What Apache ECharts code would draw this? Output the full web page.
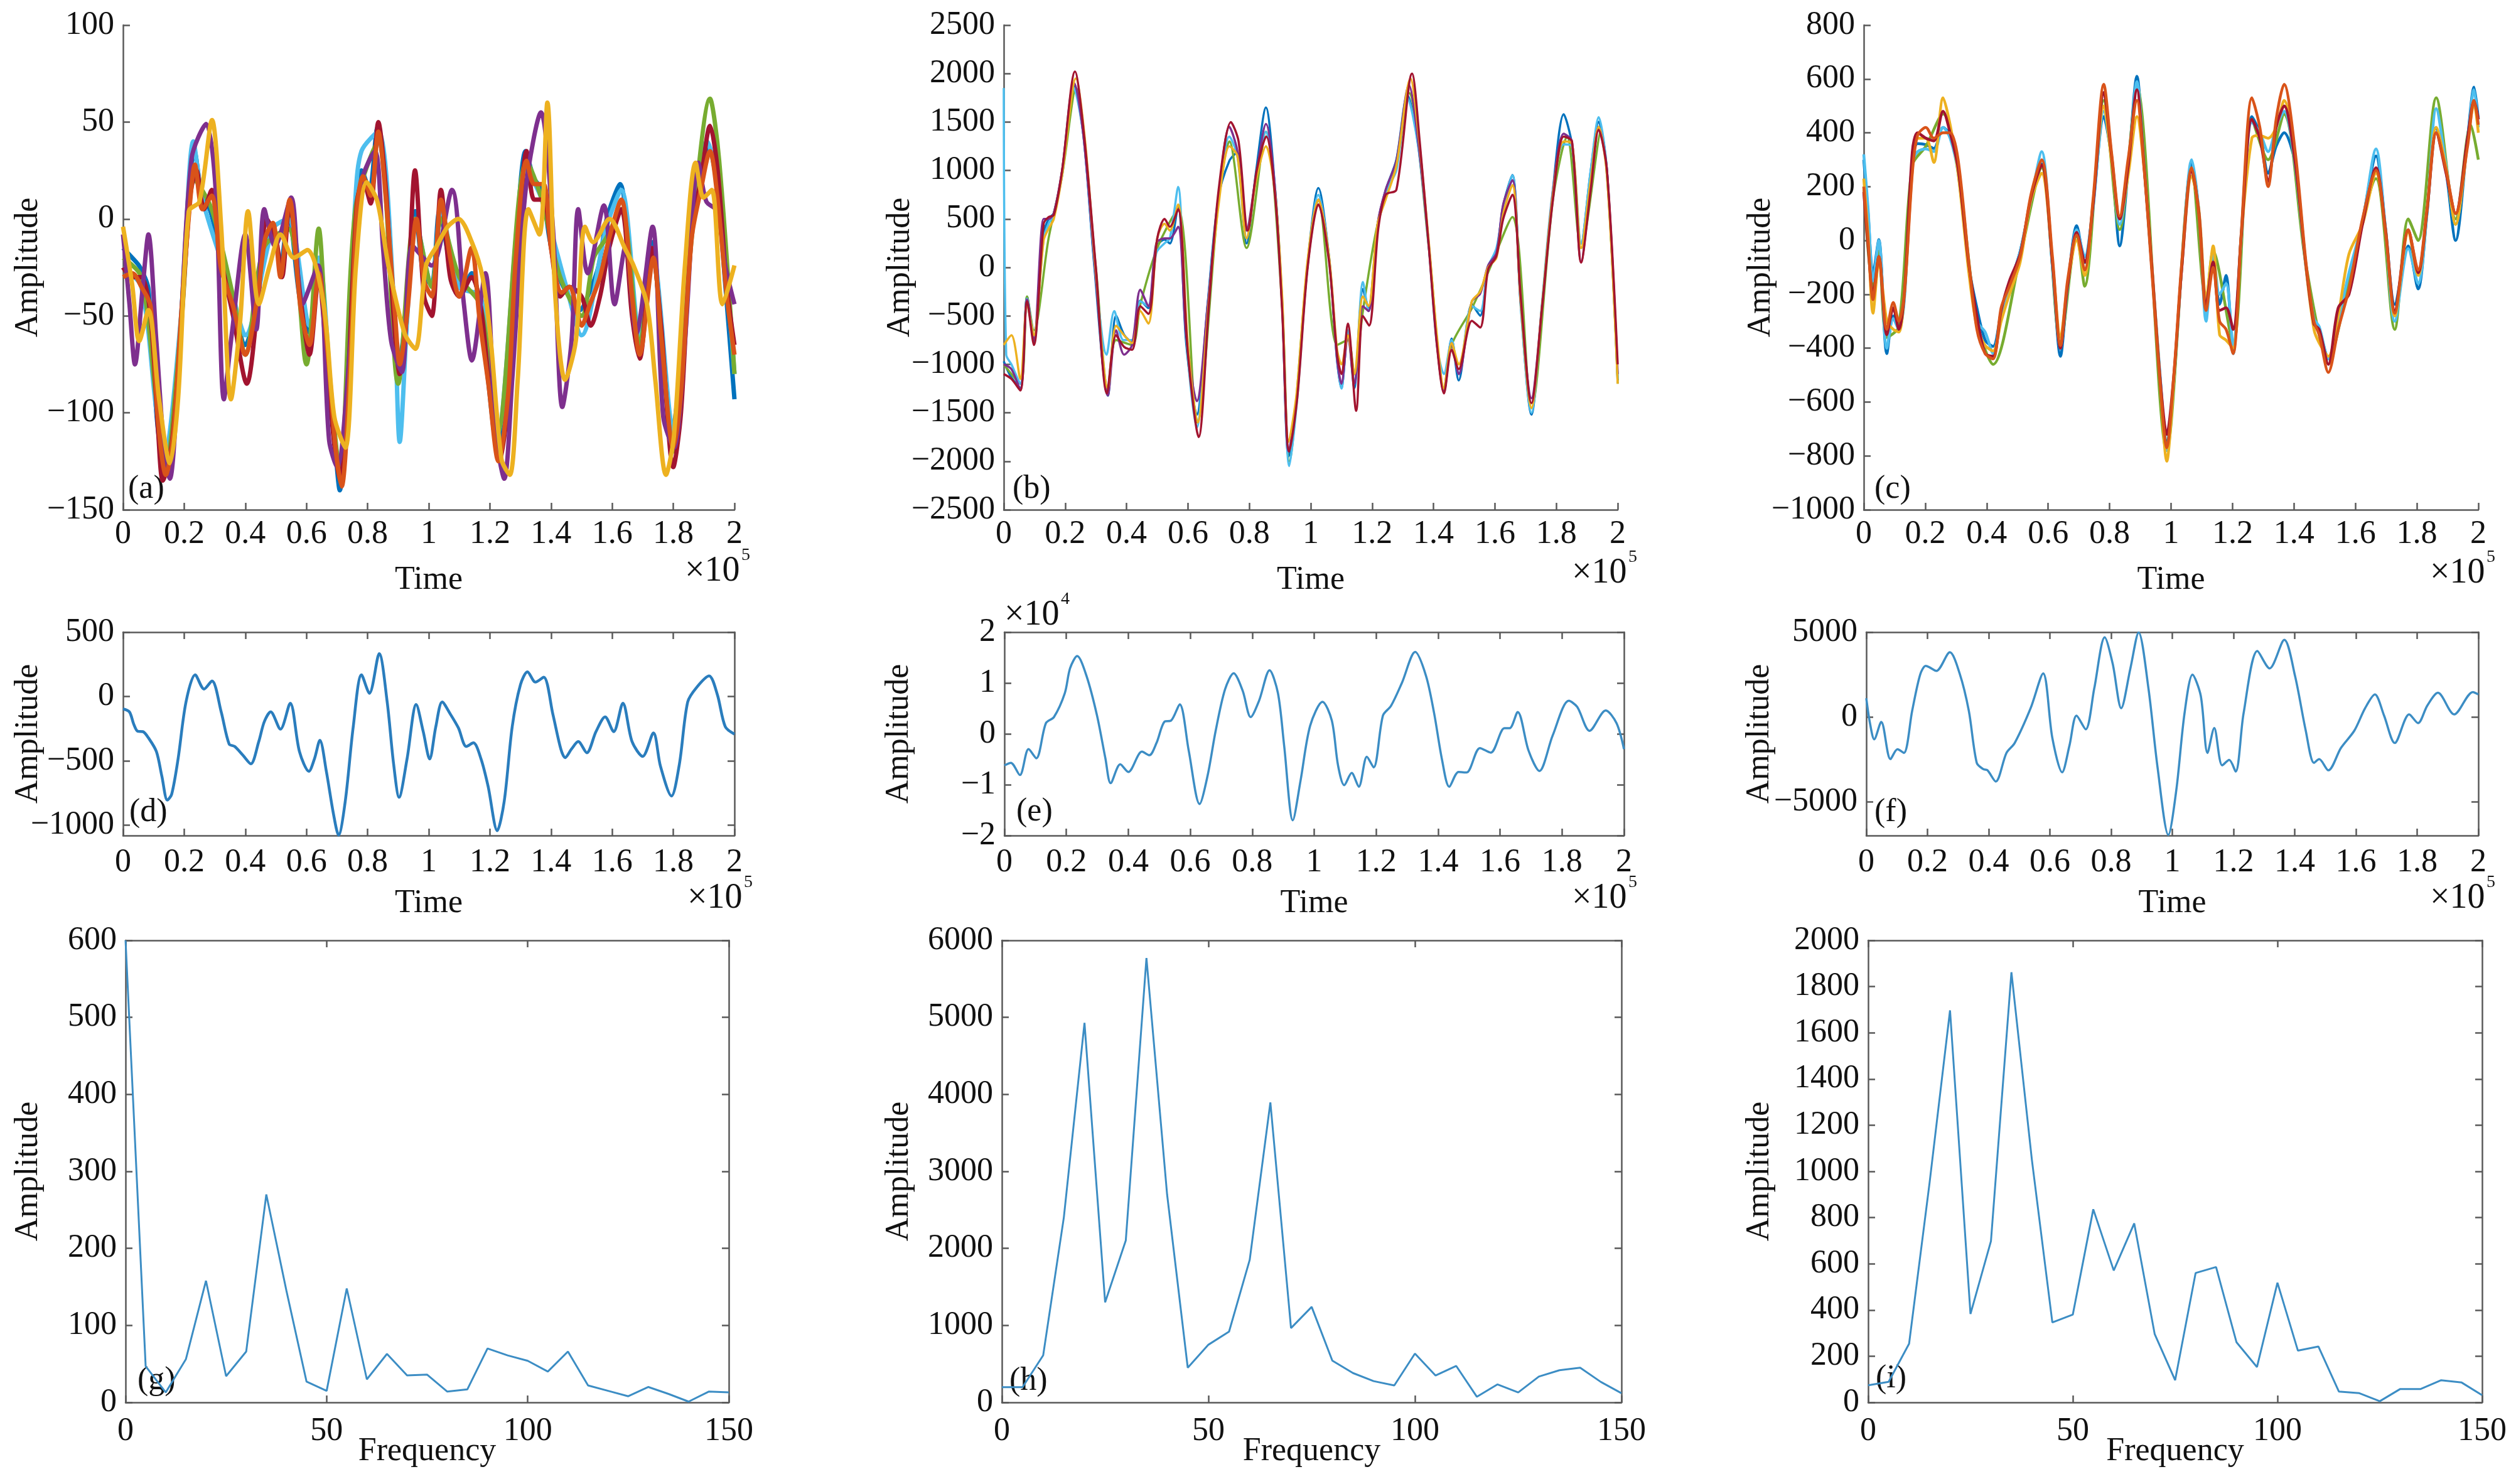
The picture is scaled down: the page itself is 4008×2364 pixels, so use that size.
<!DOCTYPE html>
<html>
<head>
<meta charset="utf-8">
<script src="https://cdn.jsdelivr.net/npm/echarts@6/dist/echarts.min.js"></script>
<style>
  html, body { margin: 0; background: #fff; }
  #chart { width: 4008px; height: 2364px; }
</style>
</head>
<body>
<div id="chart"></div>
<script>
// time is in units of 1e5 (axis shows x10^5), panel (e) amplitude in units of 1e4
const aBlue = [[0,-15],[0.03,-20],[0.056,-25],[0.083,-36],[0.11,-102],[0.136,-128],[0.159,-112],[0.189,-53],[0.215,15],[0.233,35],[0.259,11],[0.286,4],[0.321,-20],[0.356,-40],[0.4,-65],[0.436,-44],[0.462,-14],[0.489,-4],[0.515,-24],[0.541,4],[0.577,-40],[0.612,-59],[0.638,-24],[0.665,-63],[0.691,-112],[0.709,-140],[0.735,-83],[0.762,11],[0.78,25],[0.806,15],[0.832,47],[0.859,15],[0.885,-44],[0.903,-73],[0.929,-44],[0.956,4],[0.982,-28],[1.009,-34],[1.035,4],[1.071,-24],[1.106,-36],[1.141,-28],[1.168,-47],[1.194,-83],[1.224,-116],[1.256,-93],[1.282,-24],[1.317,35],[1.344,21],[1.37,15],[1.397,-12],[1.432,-32],[1.459,-40],[1.494,-47],[1.52,-40],[1.556,-24],[1.582,0],[1.626,18],[1.661,-36],[1.688,-63],[1.732,-12],[1.758,-53],[1.794,-112],[1.82,-83],[1.855,-4],[1.891,19],[1.917,37],[1.944,15],[1.97,-34],[2,-93]];
const aOrange = [[0,-30],[0.03,-28],[0.06,-35],[0.09,-45],[0.115,-105],[0.14,-132],[0.165,-110],[0.19,-50],[0.22,10],[0.235,28],[0.26,5],[0.29,12],[0.32,-25],[0.36,-45],[0.4,-70],[0.44,-40],[0.465,-10],[0.49,-2],[0.515,-30],[0.545,10],[0.58,-45],[0.61,-65],[0.64,-28],[0.67,-70],[0.695,-118],[0.715,-138],[0.74,-85],[0.765,5],[0.785,22],[0.81,12],[0.835,45],[0.86,10],[0.89,-50],[0.905,-75],[0.93,-48],[0.96,0],[0.985,-32],[1.01,-40],[1.04,10],[1.07,-20],[1.1,-40],[1.14,-15],[1.165,-50],[1.195,-85],[1.228,-125],[1.26,-90],[1.285,-20],[1.32,30],[1.345,18],[1.375,18],[1.4,-15],[1.435,-38],[1.46,-35],[1.5,-55],[1.525,-45],[1.56,-30],[1.59,-10],[1.63,10],[1.665,-40],[1.69,-70],[1.735,-20],[1.76,-60],[1.8,-118],[1.825,-90],[1.86,-10],[1.89,15],[1.92,35],[1.945,10],[1.975,-40],[2,-70]];
const aRed = [[0,-25],[0.03,-30],[0.06,-30],[0.09,-50],[0.115,-110],[0.13,-135],[0.16,-115],[0.19,-55],[0.22,12],[0.24,25],[0.265,5],[0.29,15],[0.32,-20],[0.36,-50],[0.405,-85],[0.44,-45],[0.47,0],[0.5,-10],[0.52,-30],[0.545,8],[0.58,-40],[0.61,-70],[0.64,-30],[0.665,-70],[0.69,-115],[0.71,-135],[0.735,-85],[0.765,8],[0.785,20],[0.81,8],[0.835,50],[0.86,15],[0.885,-50],[0.905,-80],[0.93,-45],[0.955,25],[0.985,-40],[1.01,-50],[1.04,15],[1.07,-30],[1.1,-40],[1.14,-30],[1.17,-45],[1.2,-90],[1.23,-125],[1.26,-95],[1.29,-25],[1.32,35],[1.345,10],[1.375,10],[1.4,-15],[1.43,-40],[1.46,-35],[1.5,-40],[1.53,-55],[1.56,-40],[1.59,-15],[1.63,5],[1.665,-50],[1.69,-72],[1.73,-15],[1.76,-55],[1.8,-128],[1.825,-100],[1.86,-5],[1.89,20],[1.92,48],[1.945,25],[1.975,-35],[2,-65]];
const aGreen = [[0,-20],[0.06,-30],[0.11,-95],[0.14,-125],[0.19,-55],[0.235,20],[0.29,5],[0.36,-40],[0.4,-70],[0.46,-15],[0.54,-5],[0.6,-75],[0.64,-5],[0.665,-60],[0.71,-130],[0.76,5],[0.835,40],[0.9,-85],[0.955,0],[1.01,-35],[1.04,0],[1.1,-30],[1.17,-45],[1.225,-110],[1.32,30],[1.37,10],[1.43,-30],[1.5,-50],[1.54,-20],[1.58,-10],[1.63,5],[1.69,-65],[1.73,-20],[1.8,-120],[1.86,-10],[1.92,62],[1.95,30],[2,-80]];
const aCyan = [[0,-25],[0.06,-35],[0.11,-100],[0.135,-120],[0.19,-50],[0.23,40],[0.26,10],[0.36,-40],[0.4,-60],[0.49,-5],[0.54,0],[0.61,-55],[0.64,-20],[0.69,-110],[0.71,-130],[0.76,10],[0.78,35],[0.835,45],[0.885,-40],[0.905,-115],[0.93,-50],[0.955,0],[1.01,-35],[1.04,5],[1.1,-35],[1.17,-40],[1.225,-110],[1.32,25],[1.37,10],[1.45,-35],[1.5,-60],[1.58,-5],[1.63,15],[1.69,-60],[1.73,-15],[1.8,-110],[1.86,0],[1.91,40],[1.95,10],[2,-80]];
const aPurple = [[0,-8],[0.021,-44],[0.039,-75],[0.065,-34],[0.083,-8],[0.109,-63],[0.136,-122],[0.153,-134],[0.18,-83],[0.224,31],[0.272,49],[0.303,15],[0.33,-93],[0.356,-59],[0.4,-8],[0.436,-57],[0.462,5],[0.497,-14],[0.55,11],[0.586,-44],[0.638,-24],[0.674,-114],[0.7,-128],[0.744,-63],[0.78,19],[0.824,35],[0.85,-14],[0.877,-63],[0.912,-79],[0.947,-14],[1.009,-24],[1.076,15],[1.115,-44],[1.141,-73],[1.185,-28],[1.22,-112],[1.247,-134],[1.273,-83],[1.317,15],[1.367,55],[1.406,-4],[1.437,-97],[1.467,-63],[1.489,5],[1.52,-28],[1.573,7],[1.608,-44],[1.644,-14],[1.679,-59],[1.732,-4],[1.767,-102],[1.802,-118],[1.838,-63],[1.882,29],[1.908,9],[1.944,4],[1.97,-24],[2,-44]];
const aYellow = [[0,-4],[0.03,-34],[0.053,-63],[0.083,-47],[0.118,-93],[0.153,-126],[0.18,-93],[0.215,4],[0.25,9],[0.291,51],[0.321,-4],[0.353,-93],[0.383,-53],[0.409,4],[0.444,-44],[0.48,-24],[0.515,-8],[0.559,-20],[0.603,-16],[0.656,-44],[0.691,-102],[0.727,-118],[0.762,-24],[0.797,19],[0.832,9],[0.868,-24],[0.921,-59],[0.956,-67],[0.991,-24],[1.026,-14],[1.062,-4],[1.097,0],[1.141,-12],[1.176,-30],[1.203,-63],[1.238,-124],[1.265,-132],[1.291,-83],[1.326,5],[1.362,-8],[1.388,60],[1.414,-40],[1.446,-83],[1.481,-63],[1.511,-4],[1.538,-12],[1.591,0],[1.644,-16],[1.67,-24],[1.714,-44],[1.741,-83],[1.776,-132],[1.802,-112],[1.838,-24],[1.873,29],[1.899,11],[1.926,15],[1.961,-44],[2,-24]];

const bBlue = [[0,-969],[0.023,-1126],[0.054,-1244],[0.076,-302],[0.098,-773],[0.128,326],[0.146,502],[0.163,561],[0.19,993],[0.228,1896],[0.26,1346],[0.295,12],[0.339,-1323],[0.366,-498],[0.392,-695],[0.418,-773],[0.445,-341],[0.471,-420],[0.497,208],[0.524,286],[0.541,247],[0.568,640],[0.594,-773],[0.629,-1519],[0.664,-381],[0.699,718],[0.735,1100],[0.761,1189],[0.791,247],[0.822,993],[0.854,1650],[0.884,797],[0.907,-381],[0.928,-1951],[0.954,-1362],[0.989,12],[1.025,820],[1.06,90],[1.086,-969],[1.1,-1244],[1.121,-655],[1.142,-1244],[1.17,-224],[1.188,-420],[1.218,443],[1.244,797],[1.279,1111],[1.315,1778],[1.35,1268],[1.385,208],[1.411,-773],[1.434,-1283],[1.459,-734],[1.482,-1166],[1.525,-381],[1.552,-498],[1.578,12],[1.605,169],[1.627,640],[1.657,954],[1.684,-381],[1.719,-1519],[1.754,-381],[1.789,797],[1.824,1580],[1.851,1268],[1.881,247],[1.912,993],[1.938,1503],[1.965,993],[2,-1166]];
const bRed = [[0,-1100],[0.025,-1150],[0.054,-1270],[0.076,-350],[0.098,-800],[0.13,450],[0.146,520],[0.163,540],[0.19,1000],[0.232,2020],[0.262,1350],[0.3,0],[0.336,-1300],[0.366,-700],[0.392,-820],[0.418,-850],[0.445,-400],[0.471,-480],[0.5,300],[0.524,500],[0.541,420],[0.568,600],[0.6,-900],[0.635,-1750],[0.668,-400],[0.7,800],[0.74,1500],[0.765,1300],[0.795,380],[0.824,1000],[0.855,1350],[0.885,700],[0.907,-450],[0.93,-1900],[0.956,-1350],[0.99,0],[1.025,650],[1.06,50],[1.086,-900],[1.1,-1100],[1.121,-580],[1.148,-1480],[1.17,-500],[1.19,-600],[1.22,400],[1.244,750],[1.279,800],[1.33,2000],[1.355,1300],[1.385,200],[1.411,-800],[1.434,-1300],[1.459,-850],[1.482,-1050],[1.525,-550],[1.552,-620],[1.578,-20],[1.605,120],[1.627,500],[1.657,750],[1.684,-300],[1.719,-1400],[1.754,-400],[1.789,700],[1.824,1350],[1.851,1300],[1.881,50],[1.912,800],[1.938,1420],[1.965,1000],[2,-1000]];
const bYellow = [[0,-800],[0.025,-700],[0.054,-1150],[0.076,-380],[0.098,-700],[0.13,280],[0.146,400],[0.163,500],[0.19,950],[0.235,1950],[0.265,1300],[0.3,-50],[0.339,-1250],[0.366,-600],[0.392,-700],[0.418,-780],[0.445,-450],[0.471,-580],[0.5,300],[0.524,450],[0.541,380],[0.568,650],[0.6,-800],[0.632,-1600],[0.668,-350],[0.7,650],[0.735,1250],[0.761,1150],[0.791,300],[0.822,900],[0.854,1250],[0.884,750],[0.907,-300],[0.928,-1800],[0.954,-1300],[0.989,50],[1.025,700],[1.06,100],[1.086,-850],[1.1,-1000],[1.121,-700],[1.142,-1100],[1.17,-300],[1.188,-400],[1.218,450],[1.244,700],[1.279,1050],[1.325,1950],[1.35,1400],[1.385,250],[1.411,-700],[1.434,-1250],[1.459,-780],[1.482,-1000],[1.525,-350],[1.552,-250],[1.578,0],[1.605,100],[1.627,550],[1.657,850],[1.684,-350],[1.719,-1450],[1.754,-380],[1.789,750],[1.824,1300],[1.851,1280],[1.881,200],[1.912,900],[1.938,1450],[1.965,950],[2,-1200]];
const bCyan = [[0,1850],[0.008,-900],[0.025,-1000],[0.054,-1200],[0.076,-320],[0.098,-700],[0.13,300],[0.146,450],[0.163,550],[0.19,950],[0.228,1850],[0.26,1350],[0.295,50],[0.335,-900],[0.36,-450],[0.39,-750],[0.418,-750],[0.445,-350],[0.471,-400],[0.497,150],[0.524,250],[0.541,300],[0.568,830],[0.594,-700],[0.629,-1650],[0.664,-400],[0.699,700],[0.735,1350],[0.761,1150],[0.791,300],[0.822,950],[0.854,1400],[0.884,800],[0.907,-350],[0.93,-2050],[0.956,-1350],[0.989,0],[1.025,750],[1.06,100],[1.086,-950],[1.1,-1250],[1.121,-650],[1.142,-1200],[1.17,-150],[1.188,-450],[1.218,400],[1.244,780],[1.279,1000],[1.315,1750],[1.35,1250],[1.385,200],[1.411,-800],[1.434,-1100],[1.459,-750],[1.482,-1100],[1.525,-400],[1.552,-450],[1.578,0],[1.605,200],[1.627,600],[1.657,950],[1.684,-400],[1.719,-1500],[1.754,-350],[1.789,800],[1.824,1270],[1.851,1250],[1.881,250],[1.912,1000],[1.938,1550],[1.965,1000],[2,-1150]];
const bPurple = [[0,-1000],[0.025,-1050],[0.054,-1260],[0.076,-330],[0.098,-750],[0.13,500],[0.146,500],[0.163,560],[0.19,1000],[0.23,1900],[0.26,1350],[0.297,0],[0.339,-1320],[0.366,-650],[0.392,-900],[0.418,-800],[0.445,-230],[0.471,-400],[0.497,250],[0.524,300],[0.541,300],[0.568,420],[0.594,-700],[0.629,-1380],[0.664,-400],[0.699,700],[0.735,1450],[0.761,1200],[0.791,380],[0.822,950],[0.854,1480],[0.884,800],[0.907,-400],[0.928,-1900],[0.954,-1350],[0.989,0],[1.025,700],[1.06,80],[1.086,-950],[1.1,-1200],[1.121,-700],[1.142,-1200],[1.17,-400],[1.188,-450],[1.218,450],[1.244,800],[1.279,1100],[1.32,1880],[1.35,1300],[1.385,220],[1.411,-780],[1.434,-1280],[1.459,-780],[1.482,-1100],[1.525,-350],[1.552,-270],[1.578,20],[1.605,150],[1.627,650],[1.657,900],[1.684,-360],[1.719,-1350],[1.754,-380],[1.789,780],[1.824,1380],[1.851,1300],[1.881,60],[1.912,850],[1.938,1450],[1.965,1000],[2,-1100]];
const bGreen = [[0,-1000],[0.054,-1200],[0.076,-300],[0.098,-650],[0.146,300],[0.19,950],[0.235,1850],[0.3,0],[0.339,-1250],[0.366,-750],[0.418,-800],[0.445,-380],[0.5,200],[0.568,600],[0.63,-1600],[0.7,700],[0.735,1300],[0.791,200],[0.854,1400],[0.907,-400],[0.93,-2000],[0.989,0],[1.025,700],[1.086,-800],[1.121,-750],[1.142,-1100],[1.17,-450],[1.218,450],[1.279,1050],[1.32,1800],[1.385,200],[1.434,-1250],[1.459,-800],[1.525,-420],[1.578,-50],[1.657,520],[1.719,-1450],[1.789,700],[1.835,1350],[1.881,200],[1.945,1400],[2,-1200]];

const cBlue = [[0,300],[0.014,102],[0.03,-124],[0.049,3],[0.075,-420],[0.096,-280],[0.114,-322],[0.132,-209],[0.158,300],[0.175,360],[0.202,356],[0.228,342],[0.258,420],[0.281,391],[0.307,257],[0.342,-96],[0.368,-250],[0.395,-370],[0.421,-393],[0.447,-266],[0.474,-167],[0.509,-40],[0.544,144],[0.579,285],[0.614,-96],[0.64,-430],[0.663,-181],[0.693,55],[0.719,-82],[0.746,130],[0.781,460],[0.807,300],[0.833,-20],[0.86,257],[0.889,610],[0.912,285],[0.939,-124],[0.965,-520],[0.986,-760],[1.009,-520],[1.035,-96],[1.067,285],[1.091,102],[1.114,-237],[1.137,-68],[1.158,-237],[1.179,-130],[1.202,-420],[1.228,17],[1.263,460],[1.289,398],[1.316,250],[1.342,350],[1.368,400],[1.404,285],[1.439,-96],[1.465,-308],[1.482,-336],[1.512,-435],[1.544,-308],[1.579,-138],[1.623,73],[1.667,314],[1.698,45],[1.728,-237],[1.772,-20],[1.804,-180],[1.833,102],[1.863,420],[1.895,257],[1.926,0],[1.965,380],[1.986,570],[2,450]];
const cOrange = [[0,200],[0.014,0],[0.03,-220],[0.049,-60],[0.075,-330],[0.096,-230],[0.114,-300],[0.132,-200],[0.158,250],[0.175,390],[0.202,420],[0.228,380],[0.258,400],[0.281,400],[0.307,300],[0.342,-80],[0.368,-330],[0.395,-420],[0.421,-440],[0.447,-250],[0.474,-170],[0.509,-60],[0.544,170],[0.579,300],[0.614,-60],[0.64,-390],[0.663,-150],[0.693,20],[0.719,-110],[0.746,150],[0.781,580],[0.807,320],[0.833,90],[0.86,300],[0.889,520],[0.912,270],[0.939,-140],[0.965,-540],[0.986,-770],[1.009,-500],[1.035,-80],[1.067,270],[1.091,90],[1.114,-260],[1.137,-100],[1.158,-300],[1.179,-330],[1.202,-420],[1.228,20],[1.263,530],[1.289,420],[1.316,200],[1.342,450],[1.368,580],[1.404,330],[1.439,-80],[1.465,-300],[1.482,-350],[1.512,-490],[1.544,-330],[1.579,-180],[1.623,80],[1.667,260],[1.698,30],[1.728,-270],[1.772,40],[1.804,-110],[1.833,120],[1.863,400],[1.895,260],[1.926,100],[1.965,350],[1.986,520],[2,430]];
const cYellow = [[0,230],[0.014,20],[0.03,-270],[0.049,-80],[0.075,-300],[0.096,-330],[0.114,-340],[0.132,-200],[0.158,260],[0.175,380],[0.202,380],[0.228,290],[0.258,530],[0.281,430],[0.307,250],[0.342,-120],[0.368,-320],[0.395,-390],[0.421,-410],[0.447,-300],[0.474,-200],[0.509,-80],[0.544,150],[0.579,250],[0.614,-80],[0.64,-360],[0.663,-170],[0.693,0],[0.719,-130],[0.746,140],[0.781,500],[0.807,290],[0.833,80],[0.86,240],[0.889,460],[0.912,270],[0.939,-110],[0.965,-530],[0.986,-820],[1.009,-520],[1.035,-100],[1.067,240],[1.091,110],[1.114,-220],[1.137,-20],[1.158,-350],[1.179,-370],[1.202,-400],[1.228,10],[1.263,380],[1.289,390],[1.316,380],[1.342,420],[1.368,520],[1.404,300],[1.439,-100],[1.465,-330],[1.482,-380],[1.512,-430],[1.544,-280],[1.579,-50],[1.623,60],[1.667,250],[1.698,40],[1.728,-280],[1.772,30],[1.804,-130],[1.833,110],[1.863,420],[1.895,270],[1.926,60],[1.965,360],[1.986,510],[2,400]];
const cCyan = [[0,320],[0.014,120],[0.03,-150],[0.049,0],[0.075,-400],[0.096,-290],[0.114,-330],[0.132,-220],[0.158,290],[0.175,330],[0.202,340],[0.228,330],[0.258,420],[0.281,380],[0.307,250],[0.342,-100],[0.368,-300],[0.395,-340],[0.421,-420],[0.447,-280],[0.474,-180],[0.509,-40],[0.544,150],[0.579,330],[0.614,-100],[0.64,-400],[0.663,-180],[0.693,40],[0.719,-60],[0.746,120],[0.781,480],[0.807,300],[0.833,60],[0.86,260],[0.889,590],[0.912,280],[0.939,-120],[0.965,-510],[0.986,-780],[1.009,-520],[1.035,-90],[1.067,300],[1.091,100],[1.114,-300],[1.137,-40],[1.158,-200],[1.179,-160],[1.202,-390],[1.228,0],[1.263,440],[1.289,400],[1.316,330],[1.342,420],[1.368,480],[1.404,280],[1.439,-100],[1.465,-290],[1.482,-320],[1.512,-440],[1.544,-300],[1.579,-120],[1.623,70],[1.667,340],[1.698,40],[1.728,-300],[1.772,-30],[1.804,-160],[1.833,100],[1.863,490],[1.895,280],[1.926,60],[1.965,380],[1.986,560],[2,420]];
const cRed = [[0,180],[0.014,-20],[0.03,-200],[0.049,-60],[0.075,-350],[0.096,-250],[0.114,-330],[0.132,-200],[0.158,330],[0.175,400],[0.202,380],[0.228,370],[0.258,480],[0.281,400],[0.307,270],[0.342,-90],[0.368,-280],[0.395,-420],[0.421,-430],[0.447,-260],[0.474,-150],[0.509,-50],[0.544,160],[0.579,280],[0.614,-80],[0.64,-400],[0.663,-170],[0.693,30],[0.719,-80],[0.746,130],[0.781,550],[0.807,310],[0.833,80],[0.86,270],[0.889,560],[0.912,280],[0.939,-120],[0.965,-520],[0.986,-720],[1.009,-500],[1.035,-100],[1.067,260],[1.091,100],[1.114,-240],[1.137,-80],[1.158,-260],[1.179,-250],[1.202,-330],[1.228,10],[1.263,450],[1.289,380],[1.316,220],[1.342,420],[1.368,500],[1.404,290],[1.439,-90],[1.465,-310],[1.482,-330],[1.512,-460],[1.544,-250],[1.579,-200],[1.623,60],[1.667,270],[1.698,40],[1.728,-260],[1.772,40],[1.804,-120],[1.833,110],[1.863,400],[1.895,250],[1.926,100],[1.965,380],[1.986,520],[2,450]];
const cGreen = [[0,200],[0.03,-180],[0.049,-40],[0.075,-360],[0.114,-320],[0.158,280],[0.202,350],[0.258,470],[0.307,260],[0.368,-300],[0.421,-460],[0.509,-60],[0.579,270],[0.64,-380],[0.693,20],[0.719,-170],[0.781,520],[0.833,40],[0.889,570],[0.986,-780],[1.067,270],[1.114,-230],[1.137,-40],[1.202,-380],[1.263,450],[1.316,300],[1.368,470],[1.439,-90],[1.512,-440],[1.579,-150],[1.667,230],[1.728,-330],[1.772,80],[1.804,0],[1.863,530],[1.926,80],[1.975,430],[2,300]];

const dSignal = [[0,-96],[0.021,-120],[0.035,-215],[0.048,-270],[0.065,-273],[0.083,-321],[0.109,-427],[0.127,-619],[0.145,-805],[0.159,-760],[0.18,-485],[0.206,-42],[0.236,169],[0.265,58],[0.291,121],[0.321,-119],[0.347,-369],[0.365,-388],[0.392,-456],[0.418,-523],[0.444,-350],[0.462,-196],[0.483,-119],[0.515,-254],[0.547,-52],[0.577,-427],[0.608,-581],[0.626,-485],[0.644,-340],[0.665,-581],[0.688,-908],[0.705,-1077],[0.727,-812],[0.753,-235],[0.78,169],[0.806,25],[0.838,333],[0.864,-42],[0.885,-523],[0.903,-783],[0.929,-485],[0.959,-62],[0.982,-273],[1.003,-485],[1.023,-235],[1.044,-42],[1.071,-138],[1.097,-244],[1.123,-388],[1.146,-360],[1.171,-485],[1.194,-696],[1.224,-1042],[1.247,-812],[1.273,-235],[1.3,92],[1.323,192],[1.349,112],[1.376,150],[1.406,-138],[1.432,-408],[1.446,-475],[1.467,-408],[1.489,-350],[1.517,-437],[1.547,-273],[1.577,-158],[1.605,-273],[1.635,-52],[1.665,-350],[1.7,-465],[1.735,-283],[1.758,-542],[1.794,-773],[1.82,-523],[1.847,-42],[1.877,73],[1.917,160],[1.944,15],[1.97,-235],[2,-292]];
const eSignal = [[0,-0.62],[0.021,-0.57],[0.05,-0.81],[0.078,-0.3],[0.103,-0.48],[0.134,0.21],[0.16,0.33],[0.195,0.8],[0.212,1.29],[0.235,1.53],[0.265,1.14],[0.299,0.36],[0.326,-0.48],[0.343,-0.97],[0.374,-0.6],[0.4,-0.75],[0.444,-0.35],[0.468,-0.42],[0.491,-0.18],[0.517,0.24],[0.538,0.26],[0.566,0.58],[0.595,-0.33],[0.63,-1.38],[0.656,-0.82],[0.682,0.06],[0.712,0.87],[0.74,1.19],[0.769,0.85],[0.795,0.33],[0.822,0.65],[0.856,1.25],[0.883,0.8],[0.903,-0.23],[0.931,-1.7],[0.956,-0.92],[0.987,0.16],[1.027,0.63],[1.057,0.26],[1.077,-0.62],[1.097,-1.01],[1.121,-0.77],[1.144,-1.04],[1.17,-0.45],[1.192,-0.66],[1.222,0.36],[1.248,0.55],[1.283,1.0],[1.326,1.61],[1.361,1.14],[1.387,0.41],[1.413,-0.52],[1.436,-1.04],[1.466,-0.75],[1.492,-0.76],[1.535,-0.28],[1.57,-0.37],[1.614,0.11],[1.631,0.11],[1.657,0.43],[1.692,-0.33],[1.727,-0.73],[1.77,-0.03],[1.822,0.65],[1.849,0.53],[1.889,0.06],[1.941,0.46],[1.976,0.21],[2,-0.3]];
const fSignal = [[0,1100],[0.012,-367],[0.026,-1320],[0.049,-293],[0.079,-2493],[0.102,-1906],[0.123,-2126],[0.15,367],[0.176,2493],[0.194,3006],[0.206,2933],[0.229,2713],[0.273,3812],[0.305,2566],[0.335,367],[0.361,-2713],[0.382,-3079],[0.396,-3152],[0.423,-3812],[0.458,-2126],[0.485,-1540],[0.537,513],[0.578,2566],[0.608,-1246],[0.64,-3270],[0.664,-1686],[0.687,73],[0.717,-733],[0.745,1686],[0.779,4692],[0.805,3152],[0.833,513],[0.863,2860],[0.89,4985],[0.922,1686],[0.952,-3006],[0.987,-6965],[1.013,-4326],[1.04,220],[1.066,2493],[1.093,1246],[1.115,-2126],[1.137,-660],[1.163,-2860],[1.186,-2537],[1.207,-3226],[1.233,220],[1.278,3886],[1.318,2860],[1.366,4545],[1.401,2419],[1.436,-806],[1.463,-2713],[1.48,-2493],[1.51,-3152],[1.551,-1833],[1.595,-806],[1.63,513],[1.662,1320],[1.692,73],[1.727,-1540],[1.774,147],[1.803,-367],[1.833,660],[1.868,1422],[1.921,147],[1.982,1466],[2,1320]];

const freqs = [0,5,10,15,20,25,30,35,40,45,50,55,60,65,70,75,80,85,90,95,100,105,110,115,120,125,130,135,140,145,150];
const gAmp = [600,47,13,56,158,34,66,270,145,27,15,148,30,63,35,36,14,17,70,61,54,40,66,22,15,8,20,11,1,14,13];
const hAmp = [198,198,611,2402,4929,1300,2104,5770,2700,450,749,919,1851,3895,965,1240,542,381,276,220,634,349,473,73,234,129,335,418,450,266,119];
const iAmp = [74,89,254,950,1697,383,698,1862,1050,346,380,836,571,775,296,96,560,586,260,153,518,224,242,47,40,5,58,58,96,86,31];

const FONT = "Liberation Serif";
const INK = "#111";
const AXIS = "#595959";
const C = {
  blue: "#0072BD", orange: "#D95319", yellow: "#EDB120", purple: "#7E2F8E",
  green: "#77AC30", cyan: "#4DBEEE", red: "#A2142F", single: "#3c8dc4"
};
const timeX = { min: 0, max: 2, interval: 0.2 };
const freqX = { min: 0, max: 150, interval: 50 };
const pairs = (xs, ys) => xs.map((x, k) => [x, ys[k]]);

const panels = [
  { tag: "(a)", grid: { left: 196, top: 40, width: 974, height: 772 }, x: timeX, y: { min: -150, max: 100, interval: 50 },
    box: false, xName: "Time", xGap: 86, yGap: 125, labelGap: 13, width: 7,
    lines: [[aBlue, C.blue], [aCyan, C.cyan], [aGreen, C.green], [aRed, C.red], [aPurple, C.purple], [aOrange, C.orange], [aYellow, C.yellow]] },
  { tag: "(b)", grid: { left: 1599, top: 40, width: 978, height: 772 }, x: timeX, y: { min: -2500, max: 2500, interval: 500 },
    box: false, xName: "Time", xGap: 86, yGap: 139, labelGap: 13, width: 3.5,
    lines: [[bBlue, C.blue], [bGreen, C.green], [bCyan, C.cyan], [bPurple, C.purple], [bYellow, C.yellow], [bRed, C.red]] },
  { tag: "(c)", grid: { left: 2969, top: 40, width: 979, height: 772 }, x: timeX, y: { min: -1000, max: 800, interval: 200 },
    box: false, xName: "Time", xGap: 86, yGap: 138, labelGap: 13, width: 4.5,
    lines: [[cBlue, C.blue], [cGreen, C.green], [cCyan, C.cyan], [cYellow, C.yellow], [cRed, C.red], [cOrange, C.orange]] },
  { tag: "(d)", grid: { left: 196, top: 1007, width: 974, height: 324 }, x: timeX, y: { min: -1080, max: 500, ticks: [-1000, -500, 0, 500] },
    box: true, xName: "Time", xGap: 82, yGap: 125, labelGap: 17, width: 4.5, lines: [[dSignal, "#2a7dbd"]] },
  { tag: "(e)", grid: { left: 1600, top: 1007, width: 987, height: 324 }, x: timeX, y: { min: -2, max: 2, interval: 1 },
    box: true, xName: "Time", xGap: 82, yGap: 142, labelGap: 17, width: 3.5, lines: [[eSignal, C.single]] },
  { tag: "(f)", grid: { left: 2973, top: 1007, width: 975, height: 324 }, x: timeX, y: { min: -7000, max: 5000, ticks: [-5000, 0, 5000] },
    box: true, xName: "Time", xGap: 82, yGap: 144, labelGap: 17, width: 3.5, lines: [[fSignal, C.single]] },
  { tag: "(g)", grid: { left: 200, top: 1498, width: 961, height: 736 }, x: freqX, y: { min: 0, max: 600, interval: 100 },
    box: true, xName: "Frequency", xGap: 52, yGap: 129, labelGap: 20, width: 3, lines: [[pairs(freqs, gAmp), C.single]] },
  { tag: "(h)", grid: { left: 1596, top: 1498, width: 987, height: 736 }, x: freqX, y: { min: 0, max: 6000, interval: 1000 },
    box: true, xName: "Frequency", xGap: 52, yGap: 138, labelGap: 20, width: 3, lines: [[pairs(freqs, hAmp), C.single]] },
  { tag: "(i)", grid: { left: 2976, top: 1498, width: 978, height: 736 }, x: freqX, y: { min: 0, max: 2000, interval: 200 },
    box: true, xName: "Frequency", xGap: 52, yGap: 147, labelGap: 20, width: 3, lines: [[pairs(freqs, iAmp), C.single]] }
];

const fmt = (v) => String(Math.round(v * 1e6) / 1e6).replace("-", "\u2212");
const textStyle = { fontFamily: FONT, fontSize: 52, color: INK };
const lineOf = { color: AXIS, width: 2.5 };

const option = { animation: false, backgroundColor: "#fff", grid: [], xAxis: [], yAxis: [], series: [], graphic: [] };

const scaleOf = (s) => {
  const o = { min: s.min, max: s.max };
  if (s.ticks) {
    o.axisTickExtra = { customValues: s.ticks };
    o.axisLabelExtra = { customValues: s.ticks };
  } else {
    o.interval = s.interval;
  }
  return o;
};

const makeAxis = (gridIndex, s, pos, extra) => {
  const sc = scaleOf(s);
  return Object.assign({
    gridIndex, type: "value", position: pos, min: sc.min, max: sc.max, interval: sc.interval,
    nameMoveOverlap: false,
    axisLine: { show: true, onZero: false, lineStyle: lineOf },
    axisTick: Object.assign({ show: true, inside: true, length: 11, lineStyle: lineOf }, sc.axisTickExtra),
    axisLabel: Object.assign({ show: true, formatter: fmt, fontFamily: FONT, fontSize: 52, color: INK }, sc.axisLabelExtra),
    splitLine: { show: false }
  }, extra);
};

panels.forEach((p, i) => {
  option.grid.push(p.grid);
  const xi = option.xAxis.length, yi = option.yAxis.length;
  const xa = makeAxis(i, p.x, "bottom", { name: p.xName, nameLocation: "middle", nameGap: p.xGap, nameTextStyle: textStyle });
  xa.axisLabel.margin = p.labelGap;
  const ya = makeAxis(i, p.y, "left", { name: "Amplitude", nameLocation: "middle", nameRotate: 90, nameGap: p.yGap, nameTextStyle: textStyle });
  ya.axisLabel.margin = 14;
  option.xAxis.push(xa);
  option.yAxis.push(ya);
  if (p.box) {
    const xt = makeAxis(i, p.x, "top");
    xt.axisLabel.show = false;
    const yr = makeAxis(i, p.y, "right");
    yr.axisLabel.show = false;
    option.xAxis.push(xt);
    option.yAxis.push(yr);
  }
  p.lines.forEach(([data, color]) => {
    option.series.push({
      type: "line", xAxisIndex: xi, yAxisIndex: yi, data, showSymbol: false, symbol: "none",
      smooth: p.x === timeX ? 0.3 : false, clip: true, silent: true,
      lineStyle: { color, width: p.width }
    });
  });
});

const text = (t, x, y, size) => ({
  type: "text", x, y, silent: true,
  style: { text: t, font: `${size}px "${FONT}"`, fill: INK, verticalAlign: "middle", align: "left" }
});

// panel tags
[["(a)", 204, 779], ["(b)", 1613, 779], ["(c)", 2986, 779],
 ["(d)", 206, 1294], ["(e)", 1619, 1293], ["(f)", 2986, 1294],
 ["(g)", 219, 2199], ["(h)", 1608, 2200], ["(i)", 2988, 2196]].forEach(([t, x, y]) => option.graphic.push(text(t, x, y, 52)));

// axis exponent marks
const power = (x, y, p) => {
  option.graphic.push(text("\u00d710", x, y, 56));
  option.graphic.push(text(p, x + 90, y - 25, 28));
};
[[1091, 910], [2504, 913], [3871, 913], [1095, 1431], [2504, 1431], [3871, 1431]].forEach(([x, y]) => power(x, y, "5"));
power(1600, 980, "4");

const chart = echarts.init(document.getElementById("chart"));
chart.setOption(option);
</script>
</body>
</html>
